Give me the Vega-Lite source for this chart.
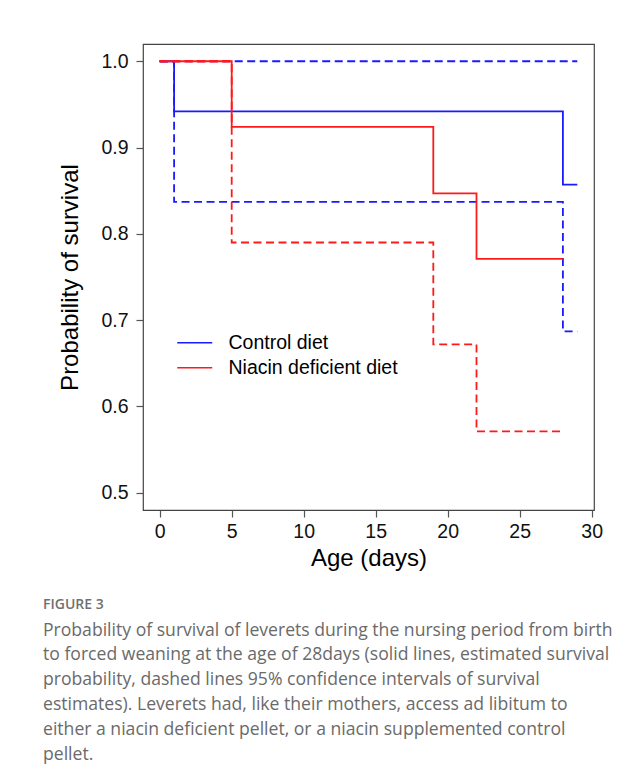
{
  "$schema": "https://vega.github.io/schema/vega-lite/v6.json",
  "width": 451,
  "height": 466,
  "autosize": {"type": "none"},
  "padding": {"left": 143, "top": 44, "right": 50, "bottom": 270},
  "background": "white",
  "config": {
    "view": {"stroke": "#444444", "strokeWidth": 1.2},
    "font": "Liberation Sans"
  },
  "title": {
    "text": "FIGURE 3",
    "subtitle": [
      "Probability of survival of leverets during the nursing period from birth",
      "to forced weaning at the age of 28days (solid lines, estimated survival",
      "probability, dashed lines 95% confidence intervals of survival",
      "estimates). Leverets had, like their mothers, access ad libitum to",
      "either a niacin deficient pellet, or a niacin supplemented control",
      "pellet."
    ],
    "orient": "bottom",
    "anchor": "start",
    "frame": "group",
    "dx": -100,
    "offset": 27,
    "font": "Open Sans",
    "fontSize": 14,
    "fontWeight": 600,
    "color": "#707070",
    "subtitleFont": "Open Sans",
    "subtitleFontSize": 17.6,
    "subtitleColor": "#6a6a6a",
    "subtitleLineHeight": 24.8,
    "subtitlePadding": 10
  },
  "data": {
    "values": [
      {"series": "c_upper", "diet": "Control diet", "type": "ci", "day": 0, "surv": 1.0},
      {"series": "c_upper", "diet": "Control diet", "type": "ci", "day": 29, "surv": 1.0},
      {"series": "c_lower", "diet": "Control diet", "type": "ci", "day": 0, "surv": 1.0},
      {"series": "c_lower", "diet": "Control diet", "type": "ci", "day": 1, "surv": 0.837},
      {"series": "c_lower", "diet": "Control diet", "type": "ci", "day": 28, "surv": 0.687},
      {"series": "c_lower", "diet": "Control diet", "type": "ci", "day": 29, "surv": 0.687},
      {"series": "c_est", "diet": "Control diet", "type": "est", "day": 0, "surv": 1.0},
      {"series": "c_est", "diet": "Control diet", "type": "est", "day": 1, "surv": 0.942},
      {"series": "c_est", "diet": "Control diet", "type": "est", "day": 28, "surv": 0.857},
      {"series": "c_est", "diet": "Control diet", "type": "est", "day": 29, "surv": 0.857},
      {"series": "n_upper", "diet": "Niacin deficient diet", "type": "ci", "day": 0, "surv": 1.0},
      {"series": "n_upper", "diet": "Niacin deficient diet", "type": "ci", "day": 5, "surv": 1.0},
      {"series": "n_lower", "diet": "Niacin deficient diet", "type": "ci", "day": 0, "surv": 1.0},
      {"series": "n_lower", "diet": "Niacin deficient diet", "type": "ci", "day": 5, "surv": 0.79},
      {"series": "n_lower", "diet": "Niacin deficient diet", "type": "ci", "day": 19, "surv": 0.672},
      {"series": "n_lower", "diet": "Niacin deficient diet", "type": "ci", "day": 22, "surv": 0.571},
      {"series": "n_lower", "diet": "Niacin deficient diet", "type": "ci", "day": 28, "surv": 0.571},
      {"series": "n_est", "diet": "Niacin deficient diet", "type": "est", "day": 0, "surv": 1.0},
      {"series": "n_est", "diet": "Niacin deficient diet", "type": "est", "day": 5, "surv": 0.924},
      {"series": "n_est", "diet": "Niacin deficient diet", "type": "est", "day": 19, "surv": 0.847},
      {"series": "n_est", "diet": "Niacin deficient diet", "type": "est", "day": 22, "surv": 0.771},
      {"series": "n_est", "diet": "Niacin deficient diet", "type": "est", "day": 28, "surv": 0.771}
    ]
  },
  "mark": {"type": "line", "interpolate": "step-after", "strokeWidth": 1.8, "clip": false},
  "encoding": {
    "x": {
      "field": "day",
      "type": "quantitative",
      "scale": {"domain": [-1.16, 30.16], "nice": false, "zero": false},
      "axis": {
        "values": [0, 5, 10, 15, 20, 25, 30],
        "title": "Age (days)",
        "domain": false,
        "grid": false,
        "tickColor": "#555555",
        "tickSize": 7,
        "tickWidth": 1.2,
        "labelFontSize": 19.5,
        "labelColor": "#111111",
        "labelFont": "Liberation Sans",
        "labelPadding": 5,
        "titleFont": "Liberation Sans",
        "titleFontSize": 24,
        "titleFontWeight": "normal",
        "titleColor": "#000000",
        "titlePadding": 6
      }
    },
    "y": {
      "field": "surv",
      "type": "quantitative",
      "scale": {"domain": [0.48, 1.02], "nice": false, "zero": false},
      "axis": {
        "values": [0.5, 0.6, 0.7, 0.8, 0.9, 1.0],
        "format": ".1f",
        "title": "Probability of survival",
        "domain": false,
        "grid": false,
        "tickColor": "#555555",
        "tickSize": 7,
        "tickWidth": 1.2,
        "labelFontSize": 19.5,
        "labelColor": "#111111",
        "labelFont": "Liberation Sans",
        "labelPadding": 8,
        "titleFont": "Liberation Sans",
        "titleFontSize": 24,
        "titleFontWeight": "normal",
        "titleColor": "#000000",
        "titlePadding": 18
      }
    },
    "color": {
      "field": "diet",
      "type": "nominal",
      "scale": {"domain": ["Control diet", "Niacin deficient diet"], "range": ["#1a1aff", "#ff1a1a"]},
      "legend": {
        "title": null,
        "orient": "none",
        "legendX": 42,
        "legendY": 289,
        "padding": 0,
        "symbolType": "M-2.5,0H2.5",
        "symbolSize": 196,
        "symbolStrokeWidth": 1.6,
        "labelOffset": 24,
        "labelFontSize": 19.5,
        "labelFont": "Liberation Sans",
        "labelColor": "#000000",
        "rowPadding": 4,
        "labelLimit": 300
      }
    },
    "strokeDash": {
      "field": "type",
      "type": "nominal",
      "scale": {"domain": ["est", "ci"], "range": [[1, 0], [8, 4.5]]},
      "legend": null
    },
    "detail": {"field": "series", "type": "nominal"}
  }
}
